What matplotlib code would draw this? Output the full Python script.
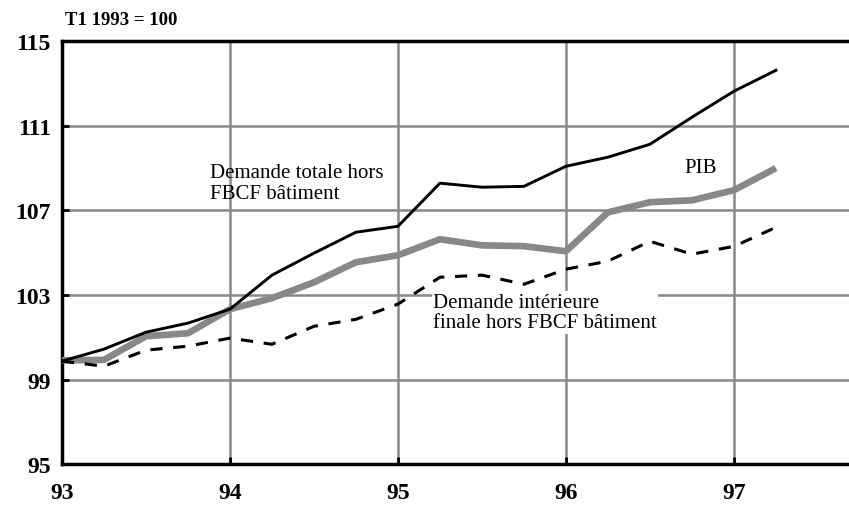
import matplotlib.pyplot as plt
import numpy as np

# quarterly points, T1 1993 to T2 1997
quarters = np.arange(18) * 0.25 + 93

demande_totale = [99.87, 100.44, 101.24, 101.67, 102.33, 103.94, 104.98, 105.97, 106.25,
                  108.29, 108.1, 108.14, 109.09, 109.52, 110.13, 111.41, 112.64, 113.63]
pib = [99.91, 99.93, 101.05, 101.19, 102.33, 102.85, 103.6, 104.55, 104.88,
       105.64, 105.35, 105.31, 105.07, 106.91, 107.39, 107.48, 107.96, 109.0]
demande_interieure = [99.87, 99.63, 100.39, 100.58, 100.96, 100.67, 101.52, 101.85, 102.57,
                      103.84, 103.94, 103.51, 104.22, 104.6, 105.54, 104.93, 105.3, 106.2]

year_ticks = [94, 95, 96, 97]
year_labels = ["93", "94", "95", "96", "97"]
y_ticks = [95, 99, 103, 107, 111, 115]

plt.rcParams['font.family'] = ['Liberation Serif', 'DejaVu Serif']

fig = plt.figure(figsize=(8.49, 5.10), dpi=100)
ax = fig.add_axes([0.073, 0.088, 0.927, 0.829])

ax.plot(quarters, pib, color='#888888', lw=4.8, solid_capstyle='butt', zorder=3)
ax.plot(quarters, demande_totale, color='black', lw=2.1, zorder=4)
ax.plot(quarters, demande_interieure, color='black', lw=2.2, dashes=(4, 3.5), zorder=4)

ax.set_xlim(93, 97.685)
ax.set_ylim(95, 115)
ax.set_yticks(y_ticks)
ax.set_yticklabels([str(v) for v in y_ticks], fontsize=17, fontweight='bold')
ax.set_xticks([93] + year_ticks)
ax.set_xticklabels(year_labels, fontsize=17, fontweight='bold')
ax.tick_params(direction='in', length=5, width=2, color='black')
ax.tick_params(axis='x', pad=13)
ax.tick_params(axis='y', pad=8)

ax.grid(True, color='#888888', lw=1.8)
ax.set_axisbelow(True)
for side in ['left', 'bottom', 'top']:
    ax.spines[side].set_linewidth(2.5)
    ax.spines[side].set_color('black')
ax.spines['right'].set_visible(False)

ax.text(93.88, 109.25, "Demande totale hors\nFBCF bâtiment", fontsize=15,
        va='top', ha='left', linespacing=1.12, zorder=5)
ax.text(96.8, 109.04, "PIB", fontsize=15, va='center', ha='center', zorder=5)
ax.text(95.21, 103.1, "Demande intérieure\nfinale hors FBCF bâtiment", fontsize=15,
        va='top', ha='left', linespacing=1.1, zorder=5,
        bbox=dict(facecolor='white', edgecolor='none', pad=1))

fig.text(0.077, 0.96, "T1 1993 = 100", fontsize=13.5, fontweight='bold', va='center')

fig.savefig('out.png', dpi=100)
